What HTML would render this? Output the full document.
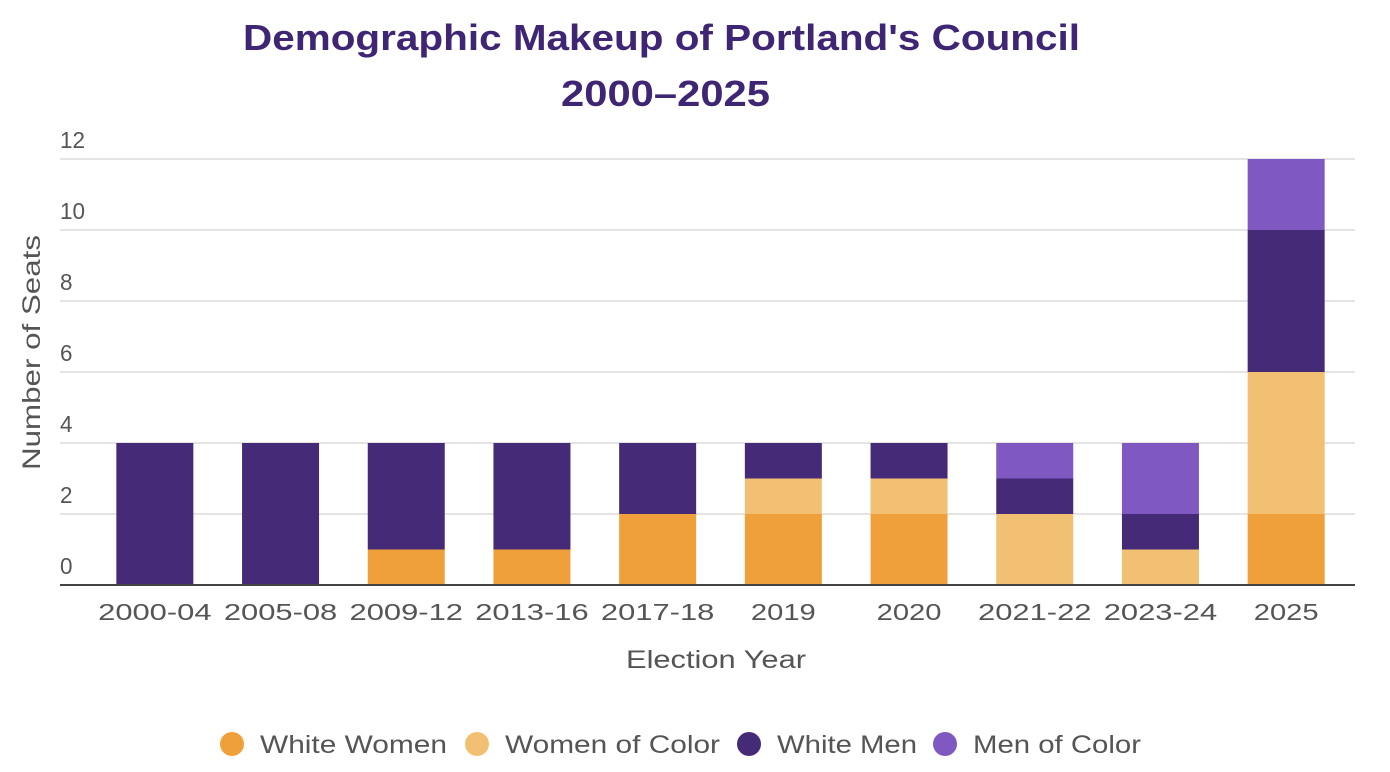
<!DOCTYPE html>
<html><head><meta charset="utf-8">
<style>
html,body{margin:0;padding:0;background:#fff;}
svg{display:block;font-family:"Liberation Sans",sans-serif;}
</style></head>
<body>
<svg id="chart" width="1390" height="772" viewBox="0 0 1390 772">
<text x="243" y="50" font-size="36" font-weight="bold" fill="#3f2674" textLength="837" lengthAdjust="spacingAndGlyphs">Demographic Makeup of Portland's Council</text>
<text x="561" y="106" font-size="36" font-weight="bold" fill="#3f2674" textLength="209" lengthAdjust="spacingAndGlyphs">2000–2025</text>
<g id="grid"></g>
<g id="bars"></g>
<g id="xlabels"></g>
<line x1="60" x2="1355" y1="585" y2="585" stroke="#444" stroke-width="2"/>
<text x="626" y="668" font-size="25" fill="#555" textLength="180" lengthAdjust="spacingAndGlyphs">Election Year</text>
<text transform="translate(40,470) rotate(-90)" font-size="25" fill="#555" textLength="235" lengthAdjust="spacingAndGlyphs">Number of Seats</text>
<g id="legend"></g>
</svg>
<script>
const categories=["2000-04","2005-08","2009-12","2013-16","2017-18","2019","2020","2021-22","2023-24","2025"];
const whiteWomen=[0,0,1,1,2,2,2,0,0,2];
const womenOfColor=[0,0,0,0,0,1,1,2,1,4];
const whiteMen=[4,4,3,3,2,1,1,1,1,4];
const menOfColor=[0,0,0,0,0,0,0,1,2,2];
const yTicks=[0,2,4,6,8,10,12];
const seriesNames=["White Women","Women of Color","White Men","Men of Color"];
const seriesColors=["#f0a03a","#f1c073","#452a78","#7f58c2"];
const series=[whiteWomen,womenOfColor,whiteMen,menOfColor];

const NS="http://www.w3.org/2000/svg";
const y0=585, yTop=159, yMax=12;
const y=v=>y0-(v/yMax)*(y0-yTop);
const bandStart=92, bandW=125.7, barW=77;
const xc=i=>bandStart+bandW*(i+0.5);
function mk(tag,attrs,parent){const e=document.createElementNS(NS,tag);for(const k in attrs)e.setAttribute(k,attrs[k]);parent.appendChild(e);return e;}

const grid=document.getElementById('grid');
yTicks.forEach(t=>{
  if(t>0){const l=mk('line',{x1:60,x2:1355,y1:y(t),y2:y(t),stroke:'#dcdcdc','stroke-width':1.5},grid);
  
  }
  const s=String(t);
  const tx=mk('text',{x:60,y:y(t)-11,'font-size':23,fill:'#555',textLength:s.length*12.5,lengthAdjust:'spacingAndGlyphs'},grid);
  tx.textContent=s;
  
  
});

const bars=document.getElementById('bars');
categories.forEach((c,i)=>{
  let cum=0;
  series.forEach((s,si)=>{
    const v=s[i]; if(!v)return;
    const r=mk('rect',{x:xc(i)-barW/2,y:y(cum+v),width:barW,height:y(cum)-y(cum+v),fill:seriesColors[si]},bars);
    
    
    cum+=v;
  });
  const t=mk('text',{x:xc(i),y:620,'text-anchor':'middle','font-size':23,fill:'#555',textLength:c.length*16.2,lengthAdjust:'spacingAndGlyphs'},document.getElementById('xlabels'));
  t.textContent=c;
  
  
});

const legend=document.getElementById('legend');
const lx=[232,477,749,945];
const lw=[187,215,140,168];
seriesNames.forEach((n,i)=>{
  const g=mk('g',{},legend);
  
  
  mk('circle',{cx:lx[i],cy:744,r:12,fill:seriesColors[i]},g);
  const t=mk('text',{x:lx[i]+28,y:753,'font-size':25,fill:'#555',textLength:lw[i],lengthAdjust:'spacingAndGlyphs'},g);
  t.textContent=n;
});
</script>
</body></html>
